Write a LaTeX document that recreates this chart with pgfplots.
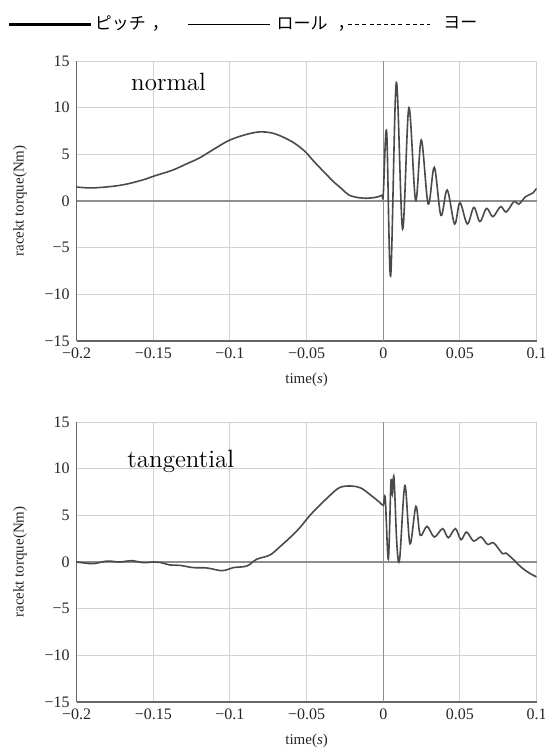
\documentclass[border=0pt]{standalone}
\usepackage{fontspec}
\usepackage{pgfplots}
\pgfplotsset{compat=1.18}
\newfontfamily\timesfont{Liberation Serif}
\newfontfamily\cjk{Noto Sans CJK JP}

\definecolor{curve}{HTML}{4A4A4A}
\definecolor{gridc}{HTML}{D2D2D2}
\definecolor{zeroc}{HTML}{8E8E8E}

% shared look of both panels
\pgfplotsset{
  torque/.style={
    scale only axis, width=230pt, height=140pt,
    xmin=-0.2, xmax=0.1, ymin=-15, ymax=15,
    xtick={-0.2,-0.15,-0.1,-0.05,0,0.05,0.1},
    xticklabels={−0.2,−0.15,−0.1,−0.05,0,0.05,0.1},
    ytick={-15,-10,-5,0,5,10,15},
    yticklabels={−15,−10,−5,0,5,10,15},
    axis lines=left, axis line style={-, draw=black!60, line width=0.6pt},
    major tick length=0pt,
    grid=major, grid style={gridc, line width=0.5pt},
    extra x ticks={0}, extra y ticks={0},
    extra x tick labels={}, extra y tick labels={},
    extra tick style={grid=major, grid style={zeroc, line width=0.7pt}, major tick length=0pt},
    tick label style={font=\timesfont\fontsize{8}{9}\selectfont, text=black!85},
    label style={font=\timesfont\fontsize{7.5}{9}\selectfont, text=black!85},
    xlabel={time(\textit{s})}, ylabel={racekt torque(Nm)}, ylabel shift=2pt,
  },
  trace/.style={curve, line width=0.8pt, smooth, tension=0.55},
  legline/.style={legend image code/.code={\draw (0pt,0pt) -- (41pt,0pt);}},
}

\begin{document}
\begin{tikzpicture}
\path[use as bounding box] (0,0) rectangle (272.5pt,378pt);

% ---- normal ----
\begin{axis}[torque, at={(38.3pt,207.5pt)}, anchor=south west,
  legend columns=3,
  legend style={at={(axis description cs:0,1)}, anchor=west,
    xshift=-34.6pt, yshift=18.4pt, draw=none, fill=none, inner sep=0pt,
    font=\cjk\fontsize{8.5}{10}\selectfont,
    nodes={inner xsep=1pt, inner ysep=0pt}},
  legend cell align=left]
\addlegendimage{black, line width=1.5pt, legline}
\addlegendentry{\makebox[45.3pt][l]{ピッチ\hspace{3pt}，}}
\addlegendimage{black, line width=0.6pt, legline}
\addlegendentry{\makebox[36.5pt][l]{\hspace{2pt}ロール\hspace{5pt}，}}
\addlegendimage{black, line width=0.4pt, dash pattern=on 2pt off 1.6pt, legline}
\addlegendentry{\makebox[25pt][l]{\hspace{5.5pt}ヨー}}

\addplot[trace] coordinates {
 (-0.2,1.5) (-0.19,1.4) (-0.175,1.6) (-0.165,1.9) (-0.155,2.35) (-0.149,2.7)
 (-0.1375,3.3) (-0.128,4.0) (-0.12,4.6) (-0.11,5.6) (-0.1005,6.5) (-0.09,7.1)
 (-0.081,7.4) (-0.073,7.3) (-0.066,6.9) (-0.058,6.2) (-0.051,5.3) (-0.045,4.2)
 (-0.038,3.0) (-0.032,2.0) (-0.027,1.3) (-0.0224,0.64) (-0.016,0.35) (-0.0115,0.29)
 (-0.005,0.39) (-0.001,0.6) (0,0.71)
 (0.0022,7.43) (0.0048,-8.04) (0.0085,12.68) (0.0126,-3.0) (0.0167,10.0)
 (0.0211,0.04) (0.0248,6.54) (0.0293,-0.32) (0.0333,3.6) (0.0376,-1.54)
 (0.0417,1.18) (0.0465,-2.46) (0.05,-0.18) (0.0548,-2.46) (0.0591,-0.68)
 (0.063,-2.2) (0.0674,-0.79) (0.0715,-1.68) (0.0765,-0.6) (0.0802,-1.18)
 (0.0852,-0.07) (0.0885,-0.32) (0.0928,0.46) (0.0972,0.82) (0.1,1.35)
};
\node[font=\fontsize{12.5}{14}\selectfont] at (axis cs:-0.14,12.75) {normal};
\end{axis}

% ---- tangential ----
\begin{axis}[torque, at={(38.3pt,27pt)}, anchor=south west]
\addplot[trace] coordinates {
 (-0.2,0.0) (-0.195,-0.1) (-0.189,-0.18) (-0.18,0.1) (-0.172,0.0) (-0.164,0.14)
 (-0.1565,-0.07) (-0.15,0.0) (-0.1457,-0.04) (-0.139,-0.32) (-0.1326,-0.36)
 (-0.124,-0.6) (-0.115,-0.64) (-0.105,-0.93) (-0.0978,-0.6) (-0.089,-0.43)
 (-0.0826,0.29) (-0.0739,0.75) (-0.0674,1.64) (-0.0609,2.6) (-0.0543,3.7)
 (-0.0478,5.0) (-0.0407,6.2) (-0.0363,6.9) (-0.0287,7.96) (-0.0211,8.14)
 (-0.0146,7.93) (-0.008,7.14) (-0.0026,6.43) (0,6.07)
 (0.0013,6.8) (0.0033,0.3) (0.005,8.57) (0.0059,7.3) (0.007,9.04)
 (0.0089,1.8) (0.0107,0.35) (0.0141,8.2) (0.0174,1.96) (0.0213,5.96)
 (0.0241,2.86) (0.0285,3.82) (0.0333,2.68) (0.0387,3.57) (0.0424,2.6)
 (0.047,3.57) (0.0507,2.39) (0.0543,3.21) (0.0589,2.25) (0.0637,2.68)
 (0.068,1.89) (0.072,2.04) (0.0778,0.89) (0.08,0.96) (0.0854,0.18)
 (0.0898,-0.54) (0.0952,-1.18) (0.1,-1.6)
};
\node[font=\fontsize{12.5}{14}\selectfont] at (axis cs:-0.132,10.78) {tangential};
\end{axis}
\end{tikzpicture}
\end{document}
